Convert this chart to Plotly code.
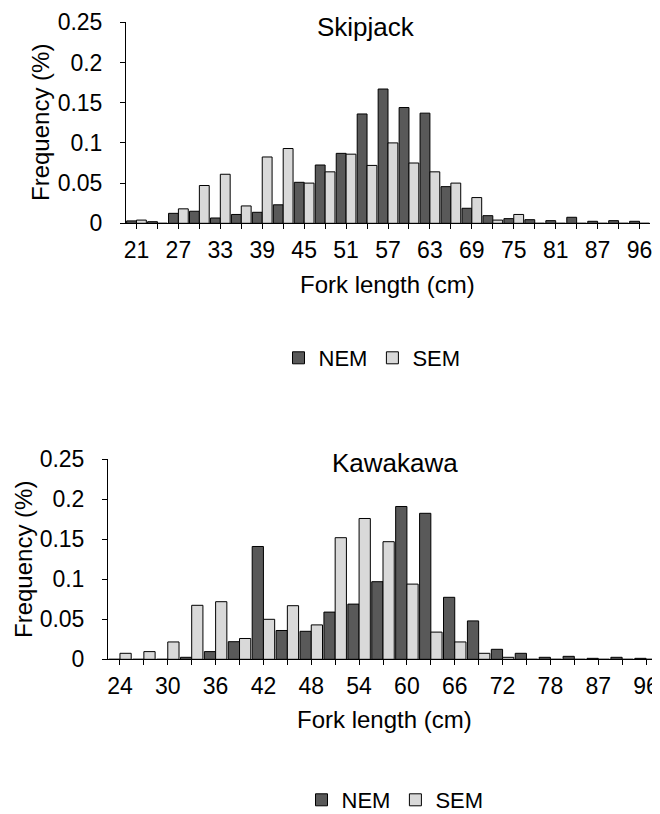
import plotly.graph_objects as go

# ---------------- data ----------------
skip_cats = ["21", "24", "27", "30", "33", "36", "39", "42", "45", "48", "51", "54", "57",
             "60", "63", "66", "69", "72", "75", "78", "81", "84", "87", "90", "96"]
skip_nem = [0.003, 0.002, 0.0124, 0.015, 0.0066, 0.011, 0.0137, 0.023, 0.051, 0.0725,
            0.087, 0.136, 0.167, 0.144, 0.137, 0.0456, 0.0187, 0.0095, 0.0058, 0.0045,
            0.0033, 0.0075, 0.0025, 0.0033, 0.0025]
skip_sem = [0.004, 0.0, 0.018, 0.047, 0.061, 0.0216, 0.0825, 0.093, 0.050, 0.064,
            0.086, 0.072, 0.100, 0.075, 0.064, 0.050, 0.032, 0.004, 0.011, 0.0,
            0.0, 0.0, 0.0, 0.0, 0.0]

kawa_cats = ["24", "27", "30", "33", "36", "39", "42", "45", "48", "51", "54", "57",
             "60", "63", "66", "69", "72", "75", "78", "84", "87", "93", "96"]
kawa_nem = [0.0, 0.0, 0.0, 0.0025, 0.0096, 0.022, 0.141, 0.036, 0.035, 0.059, 0.069,
            0.097, 0.191, 0.1825, 0.0775, 0.048, 0.0125, 0.0075, 0.0025, 0.0037,
            0.0012, 0.0025, 0.0012]
kawa_sem = [0.0075, 0.0096, 0.0217, 0.0675, 0.072, 0.026, 0.050, 0.067, 0.043, 0.152,
            0.176, 0.147, 0.094, 0.034, 0.0217, 0.0075, 0.0025, 0.0, 0.0, 0.0, 0.0,
            0.0, 0.0]

series_names = ["NEM", "SEM"]
y_ticks = [0, 0.05, 0.1, 0.15, 0.2, 0.25]
y_ticktext = ["0", "0.05", "0.1", "0.15", "0.2", "0.25"]

# ---------------- styling ----------------
OFF = 8
W, H = 660 - OFF, 814 - OFF
FONT = "Liberation Sans, Arial, sans-serif"
DARK = "#595959"
LIGHT = "#d9d9d9"
TICK_SIZE = 23
AXT_SIZE = 24
TITLE_SIZE = 26
LEG_SIZE = 22


def px_x(p):
    return (p - OFF) / W


def px_y(p):
    return 1 - (p - OFF) / H


fig = go.Figure()

for cats, nem, sem, ax, lg in [(skip_cats, skip_nem, skip_sem, "", "legend"),
                               (kawa_cats, kawa_nem, kawa_sem, "2", "legend2")]:
    fig.add_trace(go.Bar(x=cats, y=nem, name=series_names[0],
                         marker=dict(color=DARK, line=dict(color="black", width=1)),
                         xaxis="x" + ax, yaxis="y" + ax, legend=lg))
    fig.add_trace(go.Bar(x=cats, y=sem, name=series_names[1],
                         marker=dict(color=LIGHT, line=dict(color="black", width=1)),
                         xaxis="x" + ax, yaxis="y" + ax, legend=lg))


def xaxis_cfg(cats, domain, anchor):
    return dict(domain=domain, anchor=anchor, type="category",
                range=[-0.5, len(cats) - 0.5], automargin=False,
                tickmode="array", tickvals=cats,
                ticktext=[c if i % 2 == 0 else "" for i, c in enumerate(cats)],
                ticks="outside", ticklen=5, tickcolor="black", tickwidth=1,
                showline=True, linecolor="black", linewidth=1,
                showgrid=False, zeroline=False, fixedrange=True,
                tickfont=dict(family=FONT, size=TICK_SIZE, color="black"),
                ticklabelstandoff=1)


def yaxis_cfg(domain, anchor):
    return dict(domain=domain, anchor=anchor, range=[0, 0.25], automargin=False,
                tickmode="array", tickvals=y_ticks, ticktext=y_ticktext,
                ticks="outside", ticklen=5, tickcolor="black", tickwidth=1,
                showline=True, linecolor="black", linewidth=1,
                showgrid=False, zeroline=False, fixedrange=True,
                tickfont=dict(family=FONT, size=TICK_SIZE, color="black"),
                ticklabelstandoff=13)


annotations = [
    dict(text="Skipjack", x=px_x(366), y=px_y(27), xref="paper", yref="paper",
         showarrow=False, font=dict(family=FONT, size=TITLE_SIZE, color="black"),
         xanchor="center", yanchor="middle"),
    dict(text="Kawakawa", x=px_x(395), y=px_y(463), xref="paper", yref="paper",
         showarrow=False, font=dict(family=FONT, size=TITLE_SIZE, color="black"),
         xanchor="center", yanchor="middle"),
    dict(text="Fork length (cm)", x=px_x(387), y=px_y(284), xref="paper", yref="paper",
         showarrow=False, font=dict(family=FONT, size=AXT_SIZE, color="black"),
         xanchor="center", yanchor="middle"),
    dict(text="Fork length (cm)", x=px_x(384), y=px_y(719), xref="paper", yref="paper",
         showarrow=False, font=dict(family=FONT, size=AXT_SIZE, color="black"),
         xanchor="center", yanchor="middle"),
    dict(text="Frequency (%)", x=px_x(41), y=px_y(123), xref="paper", yref="paper",
         showarrow=False, textangle=-90, font=dict(family=FONT, size=AXT_SIZE, color="black"),
         xanchor="center", yanchor="middle"),
    dict(text="Frequency (%)", x=px_x(23), y=px_y(560), xref="paper", yref="paper",
         showarrow=False, textangle=-90, font=dict(family=FONT, size=AXT_SIZE, color="black"),
         xanchor="center", yanchor="middle"),
]

legend_common = dict(orientation="h", xanchor="center", yanchor="middle",
                     font=dict(family=FONT, size=LEG_SIZE, color="black"),
                     itemwidth=30, bgcolor="rgba(0,0,0,0)", traceorder="normal",
                     itemclick=False, itemdoubleclick=False)

fig.update_layout(
    template="none",
    width=W, height=H,
    margin=dict(l=0, r=0, t=0, b=0, autoexpand=False),
    paper_bgcolor="white", plot_bgcolor="white",
    barmode="group", bargap=0.06, bargroupgap=0.0,
    xaxis=xaxis_cfg(skip_cats, [px_x(126), px_x(650)], "y"),
    yaxis=yaxis_cfg([px_y(223.3), px_y(22.3)], "x"),
    xaxis2=xaxis_cfg(kawa_cats, [px_x(108), px_x(658)], "y2"),
    yaxis2=yaxis_cfg([px_y(659.3), px_y(459.3)], "x2"),
    legend=dict(x=px_x(372), y=px_y(358), **legend_common),
    legend2=dict(x=px_x(395), y=px_y(800), **legend_common),
    annotations=annotations,
    showlegend=True,
)

fig.write_html("out.html")
